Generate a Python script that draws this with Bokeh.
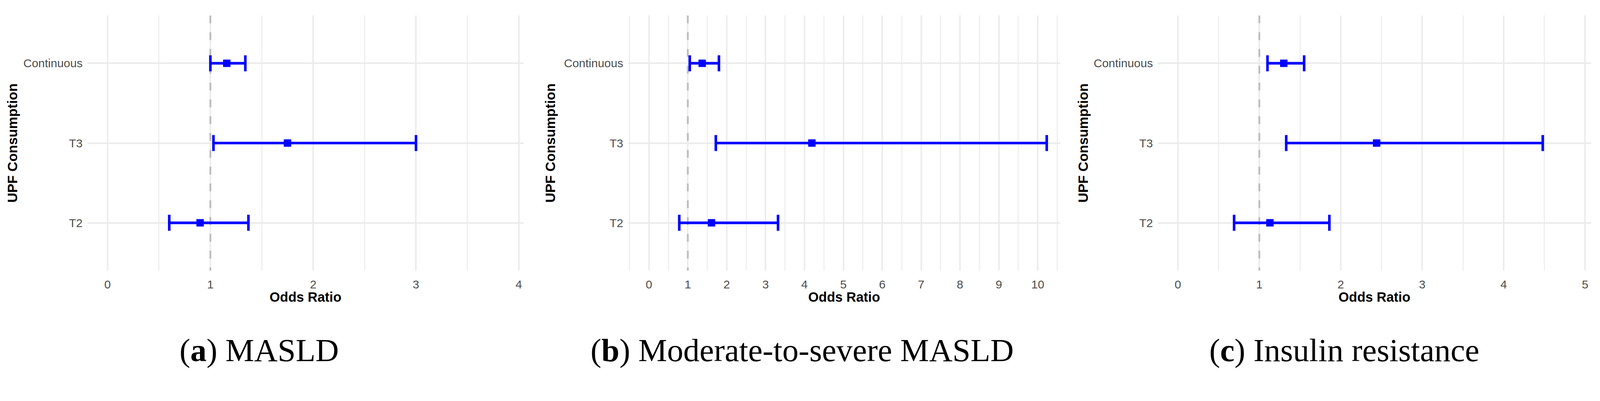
from bokeh.plotting import figure
from bokeh.models import Range1d, FixedTicker, Span, Label, Whisker, ColumnDataSource, TeeHead
from bokeh.layouts import row, column
from bokeh.embed import file_html
from bokeh.resources import INLINE

# ---------------- data ----------------
categories = ["T2", "T3", "Continuous"]
cat_pos = [1, 2, 3]

a_or = [0.90, 1.75, 1.16]
a_lo = [0.60, 1.03, 1.00]
a_hi = [1.37, 3.00, 1.34]

b_or = [1.61, 4.19, 1.37]
b_lo = [0.78, 1.72, 1.05]
b_hi = [3.32, 10.23, 1.80]

c_or = [1.13, 2.44, 1.30]
c_lo = [0.69, 1.33, 1.10]
c_hi = [1.86, 4.48, 1.55]

a_ticks = [0, 1, 2, 3, 4]
b_ticks = [0, 1, 2, 3, 4, 5, 6, 7, 8, 9, 10]
c_ticks = [0, 1, 2, 3, 4, 5]

captions = [("a", "MASLD"), ("b", "Moderate-to-severe MASLD"), ("c", "Insulin resistance")]

BLUE = "#0000FF"
GRID = "#EBEBEB"
SANS = "Liberation Sans"
SERIF = "Liberation Serif"
ROW_H = 849


def make_panel(orv, lo, hi, ticks, xr, width, mb, label_standoff):
    left, right, top, bottom = mb
    p = figure(width=width, height=ROW_H, x_range=Range1d(*xr), y_range=Range1d(0.4, 3.6),
               output_backend="svg", toolbar_location=None,
               min_border_left=left, min_border_right=right,
               min_border_top=top, min_border_bottom=bottom)
    p.outline_line_color = None
    p.background_fill_color = "white"

    minor = [t + 0.5 for t in [ticks[0] - 1] + ticks]
    p.xaxis.ticker = FixedTicker(ticks=ticks, minor_ticks=minor)
    p.yaxis.ticker = FixedTicker(ticks=cat_pos)
    p.yaxis.major_label_overrides = {k: v for k, v in zip(cat_pos, categories)}

    for ax in (p.xaxis[0], p.yaxis[0]):
        ax.axis_line_color = None
        ax.major_tick_line_color = None
        ax.minor_tick_line_color = None
        ax.major_tick_out = 0
        ax.major_tick_in = 0
        ax.minor_tick_out = 0
        ax.minor_tick_in = 0
        ax.major_label_text_font = SANS
        ax.major_label_text_font_size = "30px"
        ax.major_label_text_color = "#4D4D4D"
        ax.axis_label_text_font = SANS
        ax.axis_label_text_font_style = "bold"
        ax.axis_label_text_color = "black"

    p.xaxis.axis_label = "Odds Ratio"
    p.xaxis.axis_label_text_font_size = "34.5px"
    p.yaxis.axis_label = "UPF Consumption"
    p.yaxis.axis_label_text_font_size = "35px"
    p.xaxis.major_label_standoff = 25
    p.xaxis.axis_label_standoff = 0
    p.yaxis.major_label_standoff = 12
    p.yaxis.axis_label_standoff = label_standoff

    p.xgrid.grid_line_color = GRID
    p.xgrid.grid_line_width = 3.8
    p.xgrid.minor_grid_line_color = GRID
    p.xgrid.minor_grid_line_width = 2.4
    p.ygrid.grid_line_color = GRID
    p.ygrid.grid_line_width = 3.8

    ref = Span(location=1, dimension="height", line_color="#BEBEBE", line_width=4.7,
               line_dash="20 23", level="underlay")
    p.add_layout(ref)

    src = ColumnDataSource(dict(y=cat_pos, orv=orv, lo=lo, hi=hi))
    w = Whisker(source=src, base="y", lower="lo", upper="hi", dimension="width",
                line_color=BLUE, line_width=6.7,
                lower_head=TeeHead(size=41, line_color=BLUE, line_width=6.6),
                upper_head=TeeHead(size=41, line_color=BLUE, line_width=6.6),
                level="glyph")
    p.add_layout(w)
    p.scatter(x="orv", y="y", source=src, marker="square", size=18,
              fill_color=BLUE, line_color=BLUE)
    return p


pa = make_panel(a_or, a_lo, a_hi, a_ticks, (-0.197, 4.047), 1360, (223, 20, 39, 138), 6)
pb = make_panel(b_or, b_lo, b_hi, b_ticks, (-0.54, 10.58), 1360, (247, 6, 28, 121), 13)
pc = make_panel(c_or, c_lo, c_hi, c_ticks, (-0.249, 5.075), 1360, (243, 7, 25, 157), 5)

# ---------------- captions ----------------
CAP_W = 4080
CAP_H = 101
cap = figure(width=CAP_W, height=CAP_H, x_range=Range1d(0, CAP_W), y_range=Range1d(0, CAP_H),
             x_axis_type=None, y_axis_type=None, output_backend="svg",
             toolbar_location=None, min_border=0)
cap.outline_line_color = None
cap.xgrid.visible = False
cap.ygrid.visible = False

FS = 83
BOTTOM_Y = 9
# approximate Times metrics (em units) used only for placing the pieces
paren_w = 0.333 * FS
letter_w = {"a": 0.5 * FS, "b": 0.556 * FS, "c": 0.444 * FS}
total_em = [4.916, 13.052, 8.331]
centers = [663, 2053, 3441]
for (letter, rest), cx, tem in zip(captions, centers, total_em):
    x0 = cx - tem * FS / 2
    kw = dict(y=BOTTOM_Y, text_font=SERIF, text_font_size=f"{FS}px",
              text_align="left", text_baseline="bottom", text_color="black")
    cap.add_layout(Label(x=x0, text="(", **kw))
    cap.add_layout(Label(x=x0 + paren_w, text=letter, text_font_style="bold", **kw))
    cap.add_layout(Label(x=x0 + paren_w + letter_w[letter], text=") " + rest, **kw))

layout = column(row(pa, pb, pc), cap)
open("out.html", "w").write(file_html(layout, INLINE))
